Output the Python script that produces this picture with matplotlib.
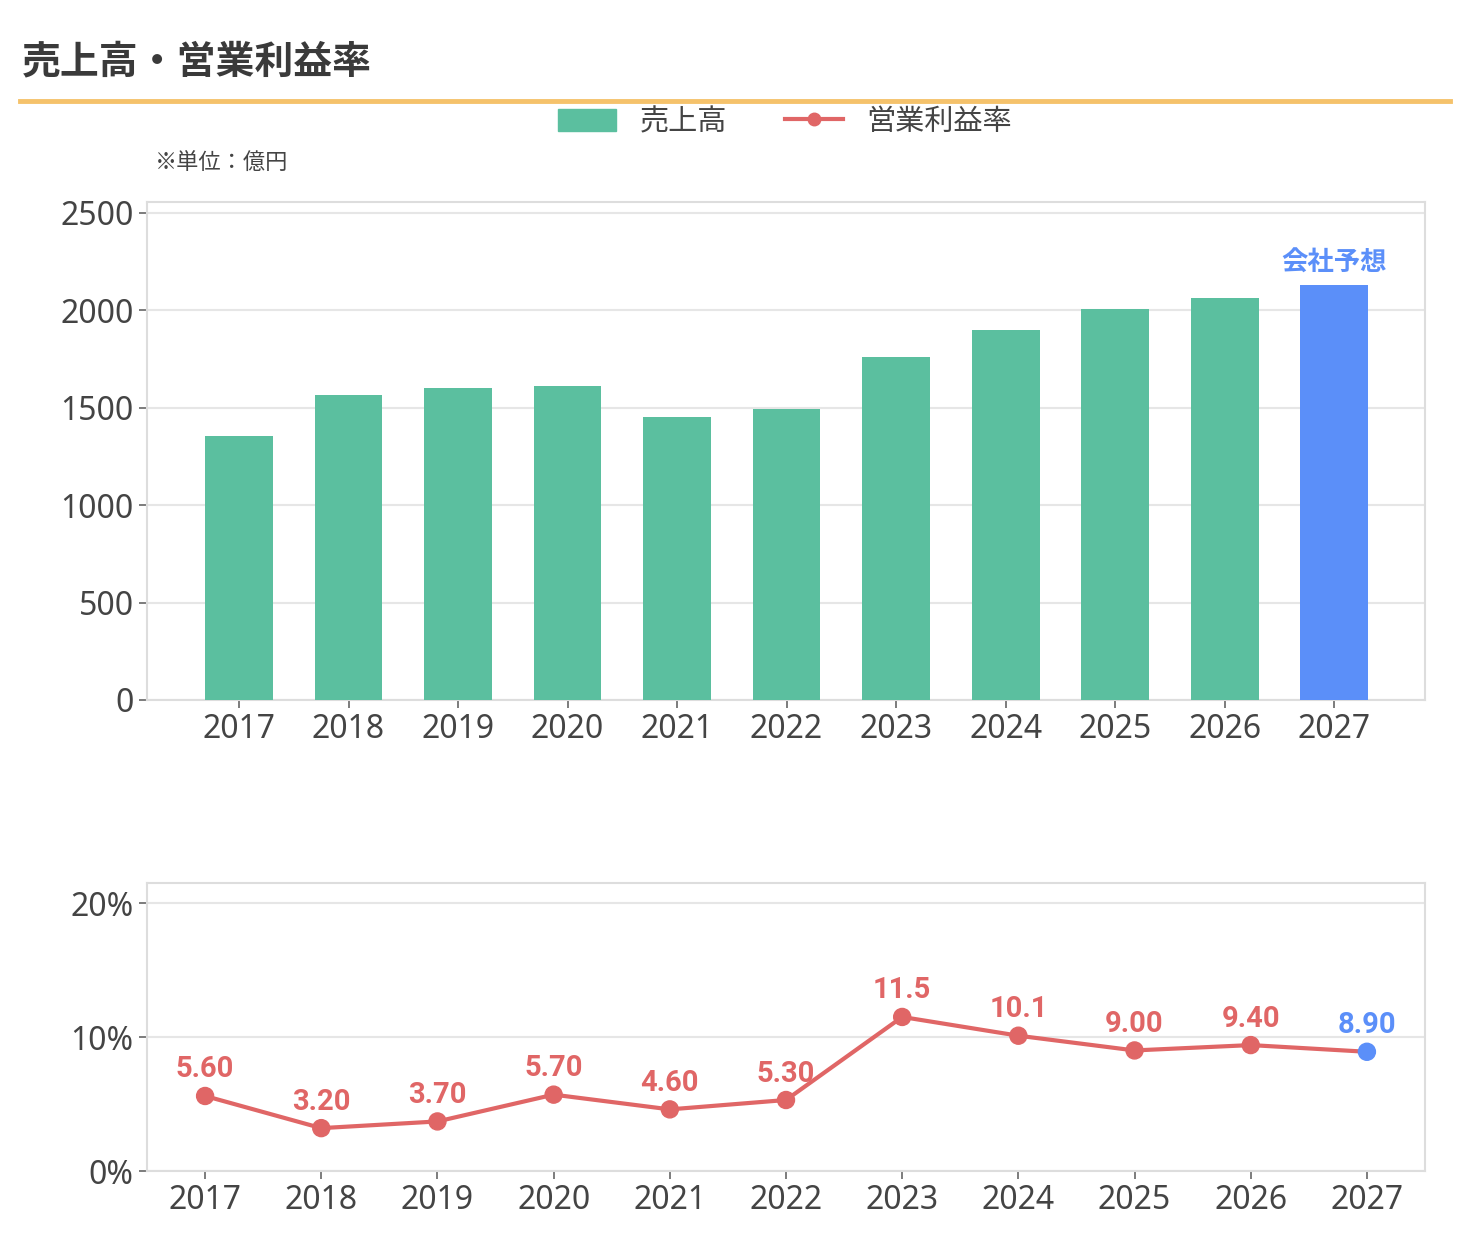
import matplotlib
matplotlib.use('Agg')
import matplotlib.pyplot as plt
from matplotlib.lines import Line2D
from matplotlib.patches import Patch

plt.rcParams['font.family'] = ['Noto Sans CJK JP', 'DejaVu Sans']
NUM_FONT = ['Noto Sans', 'Noto Sans CJK JP']
LABEL_FONT = ['Roboto', 'Noto Sans CJK JP']

years = ['2017', '2018', '2019', '2020', '2021', '2022', '2023', '2024', '2025', '2026', '2027']
sales = [1355, 1566, 1602, 1612, 1453, 1494, 1761, 1899, 2007, 2064, 2130]
margin = [5.60, 3.20, 3.70, 5.70, 4.60, 5.30, 11.5, 10.1, 9.00, 9.40, 8.90]
margin_labels = ['5.60', '3.20', '3.70', '5.70', '4.60', '5.30', '11.5', '10.1', '9.00', '9.40', '8.90']
forecast = [False] * 10 + [True]

green = '#5BBF9F'
blue = '#5B8FF9'
red = '#E06666'
txt = '#444444'
grid_c = '#E6E6E6'
spine_c = '#DDDDDD'

fig = plt.figure(figsize=(14.7, 12.6), dpi=100)

# title + underline
fig.text(22 / 1470, 1 - 62 / 1260, '売上高・営業利益率', fontsize=28, fontweight='bold',
         color='#3a3a3a', va='center', ha='left')
fig.add_artist(Line2D([20 / 1470, 1450 / 1470], [1 - 101 / 1260] * 2, color='#F5C26B', lw=3.5))
fig.text(155 / 1470, 1 - 163 / 1260, '※単位：億円', fontsize=16, color=txt, va='center', ha='left')

# legend
handles = [Patch(color=green, label='売上高'),
           Line2D([0], [0], color=red, lw=3, marker='o', markersize=9, label='営業利益率')]
fig.legend(handles=handles, loc='center', bbox_to_anchor=(785 / 1470, 1 - 122 / 1260), ncol=2,
           frameon=False, fontsize=21, handlelength=2.0, handleheight=0.8, columnspacing=2.0,
           handletextpad=0.8, labelcolor=txt)


def style(ax):
    for s in ax.spines.values():
        s.set_color(spine_c)
        s.set_linewidth(1.5)
    ax.tick_params(colors='#666666', labelcolor=txt, labelsize=23, length=6, width=1.2)
    for lab in ax.get_xticklabels() + ax.get_yticklabels():
        lab.set_family(NUM_FONT)
    ax.grid(axis='y', color=grid_c, lw=1.5)
    ax.set_axisbelow(True)


# sales bars
ax1 = fig.add_axes([147 / 1470, 1 - 700 / 1260, 1278 / 1470, 498 / 1260])
x = list(range(len(years)))
cols = [blue if f else green for f in forecast]
ax1.bar(x, sales, width=0.62, color=cols, zorder=3)
ax1.set_xlim(-0.84, 10.83)
ax1.set_ylim(0, 2556)
ax1.set_yticks([0, 500, 1000, 1500, 2000, 2500])
ax1.set_xticks(x)
ax1.set_xticklabels(years)
style(ax1)
for i, f in enumerate(forecast):
    if f:
        ax1.annotate('会社予想', (x[i], sales[i]), xytext=(0, 6), textcoords='offset points',
                     ha='center', va='bottom', fontsize=19, fontweight='bold', color=blue)

# margin line
ax2 = fig.add_axes([147 / 1470, 1 - 1171 / 1260, 1278 / 1470, 288 / 1260])
ax2.plot(x, margin, color=red, lw=3, zorder=3)
pcols = [blue if f else red for f in forecast]
ax2.scatter(x, margin, s=150, color=pcols, zorder=4)
for i in x:
    ax2.annotate(margin_labels[i], (x[i], margin[i]), xytext=(0, 9), textcoords='offset points',
                 ha='center', va='bottom', fontsize=21, fontweight='bold', color=pcols[i],
                 family=LABEL_FONT)
ax2.set_xlim(-0.5, 10.5)
ax2.set_ylim(0, 21.5)
ax2.set_yticks([0, 10, 20])
ax2.set_yticklabels(['0%', '10%', '20%'])
ax2.set_xticks(x)
ax2.set_xticklabels(years)
style(ax2)

fig.savefig('out.png', dpi=100, facecolor='white')
